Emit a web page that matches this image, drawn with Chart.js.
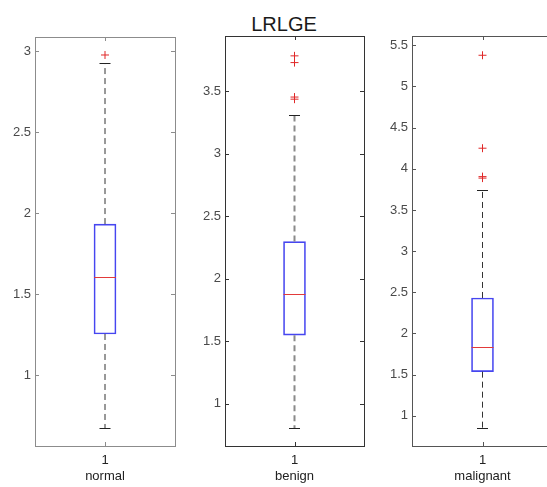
<!DOCTYPE html>
<html>
<head>
<meta charset="utf-8">
<script src="https://cdn.jsdelivr.net/npm/chart.js@4.4.0/dist/chart.umd.min.js"></script>
<style>
    html, body { margin: 0; padding: 0; background: #fff; }
    #wrap { position: relative; width: 547px; height: 487px; overflow: hidden; }
    canvas { position: absolute; top: 0; }
    #title {
        position: absolute; left: 234px; width: 100px; top: 13px;
        text-align: center; font: 20px 'Liberation Sans', Arial, sans-serif; color: #1a1a1a;
    }
</style>
</head>
<body>
<div id="wrap">
    <div id="title">LRLGE</div>
    <canvas id="c0" width="180" height="487" style="left:0px"></canvas>
    <canvas id="c1" width="179" height="487" style="left:190px"></canvas>
    <canvas id="c2" width="181" height="487" style="left:377px"></canvas>
</div>
<script>
/* ======== Box plot values per group ======== */
const groups = ['normal', 'benign', 'malignant'];
const whiskerLow = [0.674, 0.803, 0.851];
const q1 = [1.254, 1.548, 1.536];
const median = [1.603, 1.878, 1.830];
const q3 = [1.932, 2.297, 2.431];
const whiskerHigh = [2.924, 3.311, 3.746];
const outliers = [
    [2.975],
    [3.785, 3.731, 3.455, 3.438],
    [5.379, 4.250, 3.905, 3.887]
];

/* ======== Axis limits and ticks ======== */
const yLimits = [[0.563, 3.086], [0.66, 3.944], [0.633, 5.613]];
const yTicks = [
    [1, 1.5, 2, 2.5, 3],
    [1, 1.5, 2, 2.5, 3, 3.5],
    [1, 1.5, 2, 2.5, 3, 3.5, 4, 4.5, 5, 5.5]
];
const xTick = ['1'];

/* ======== Styling ======== */
const FONT = "'Liberation Sans', Arial, sans-serif";
const C = {
    box: '#4646f0', median: '#e23a3a', outlier: '#e02828',
    whisker: ['#333', '#8a8a8a', '#333'], frame: ['#8c8c8c', '#333', '#555'], text: '#4a4a4a'
};
const topPad = [37, 36, 36];

/* whiskers, caps, median, frame and inward ticks */
const boxExtras = {
    id: 'boxExtras',
    afterDatasetsDraw(chart, args, opts) {
        const i = opts.index;
        const { ctx, chartArea: a } = chart;
        const x = chart.scales.x, y = chart.scales.y;
        const cx = x.getPixelForValue(0);
        const half = 11, cap = 5.5;
        ctx.save();
        // dashed whiskers
        ctx.strokeStyle = C.whisker[i];
        ctx.lineWidth = i === 1 ? 2 : 1;
        ctx.setLineDash([6, 4]);
        ctx.beginPath();
        ctx.moveTo(cx, y.getPixelForValue(q3[i]));
        ctx.lineTo(cx, y.getPixelForValue(whiskerHigh[i]));
        ctx.moveTo(cx, y.getPixelForValue(q1[i]));
        ctx.lineTo(cx, y.getPixelForValue(whiskerLow[i]));
        ctx.stroke();
        ctx.setLineDash([]);
        // caps
        ctx.lineWidth = 1;
        ctx.strokeStyle = '#222';
        [whiskerHigh[i], whiskerLow[i]].forEach(v => {
            const py = Math.round(y.getPixelForValue(v)) + 0.5;
            ctx.beginPath();
            ctx.moveTo(cx - cap, py);
            ctx.lineTo(cx + cap, py);
            ctx.stroke();
        });
        // median
        const my = Math.round(y.getPixelForValue(median[i])) + 0.5;
        ctx.strokeStyle = C.median;
        ctx.beginPath();
        ctx.moveTo(cx - half, my);
        ctx.lineTo(cx + half, my);
        ctx.stroke();
        // frame
        ctx.strokeStyle = C.frame[i];
        ctx.strokeRect(Math.round(a.left) + 0.5, Math.round(a.top) + 0.5,
            Math.round(a.right - a.left), Math.round(a.bottom - a.top));
        // inward tick marks
        ctx.beginPath();
        yTicks[i].forEach(v => {
            const py = Math.round(y.getPixelForValue(v)) + 0.5;
            ctx.moveTo(a.left, py); ctx.lineTo(a.left + 4, py);
            ctx.moveTo(a.right, py); ctx.lineTo(a.right - 4, py);
        });
        const tx = Math.round(cx) + 0.5;
        ctx.moveTo(tx, a.top); ctx.lineTo(tx, a.top + 4);
        ctx.moveTo(tx, a.bottom); ctx.lineTo(tx, a.bottom - 4);
        ctx.stroke();
        ctx.restore();
    }
};

function drawPanel(i) {
    const canvas = document.getElementById('c' + i);
    return new Chart(canvas, {
        type: 'bar',
        data: {
            labels: xTick,
            datasets: [{
                data: [[q1[i], q3[i]]],
                backgroundColor: 'rgba(0,0,0,0)',
                borderColor: C.box,
                borderWidth: 1,
                borderSkipped: false,
                barThickness: 22,
                order: 2
            }, {
                type: 'line',
                data: outliers[i].map(v => ({ x: '1', y: v })),
                showLine: false,
                pointStyle: 'cross',
                pointRadius: 4,
                pointBorderWidth: 1,
                borderColor: C.outlier,
                backgroundColor: C.outlier,
                order: 1
            }]
        },
        options: {
            responsive: false,
            animation: false,
            layout: { padding: { top: topPad[i], right: 2 } },
            plugins: { legend: { display: false }, tooltip: { enabled: false }, boxExtras: { index: i } },
            scales: {
                x: {
                    grid: { display: false, drawTicks: false },
                    border: { display: false },
                    ticks: { color: '#222', font: { family: FONT, size: 13 }, padding: 7 },
                    title: { display: true, text: groups[i], color: '#222', font: { family: FONT, size: 13 }, padding: { top: 2, bottom: 3 } },
                    afterFit: s => { s.height = 41; }
                },
                y: {
                    min: yLimits[i][0], max: yLimits[i][1],
                    grid: { display: false, drawTicks: false },
                    border: { display: false },
                    afterBuildTicks: s => { s.ticks = yTicks[i].map(v => ({ value: v })); },
                    ticks: {
                        color: C.text, font: { family: FONT, size: 13 }, padding: 4,
                        callback: v => String(Math.round(v * 10) / 10)
                    },
                    afterFit: s => { s.width = 35; }
                }
            }
        },
        plugins: [boxExtras]
    });
}

groups.forEach((g, i) => drawPanel(i));
</script>
</body>
</html>
